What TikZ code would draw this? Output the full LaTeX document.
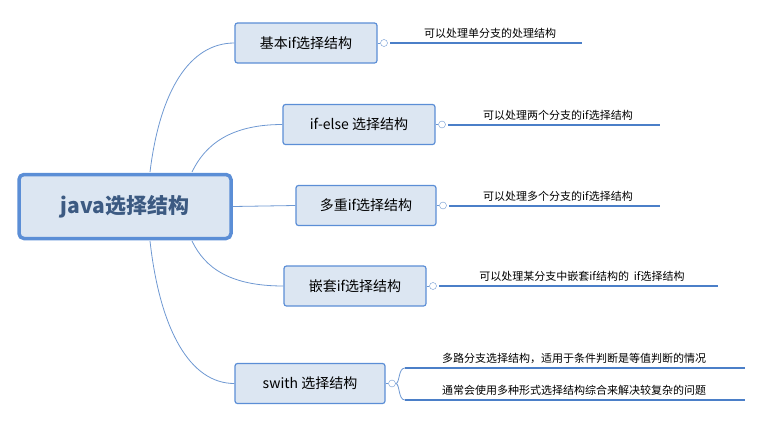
\documentclass[tikz,border=0pt]{standalone}
\usepackage{fontspec}
\setmainfont{Noto Sans CJK SC}
\begin{document}
\begin{tikzpicture}[x=1pt,y=-1pt,
  box/.style={draw=boxline,fill=boxfill,line width=1.2pt,rounded corners=2.5pt,minimum height=40pt,font=\fontsize{14}{16}\selectfont,inner sep=0pt},
  root/.style={draw=boxline,fill=boxfill,line width=3.5pt,rounded corners=5pt,minimum width=212pt,minimum height=64pt,font=\fontsize{21}{24}\bfseries\selectfont,text=roottext},
  conn/.style={draw=connline,line width=0.8pt},
  knob/.style={circle,draw=connline,fill=white,inner sep=0pt,minimum size=7pt},
  uline/.style={draw=ulcol,line width=2pt},
  lab/.style={font=\fontsize{11}{13}\selectfont,anchor=south,inner sep=1pt}]
\definecolor{boxline}{HTML}{5B8ED6}
\definecolor{boxfill}{HTML}{DCE6F2}
\definecolor{roottext}{HTML}{3C5A82}
\definecolor{connline}{HTML}{6E98D2}
\definecolor{ulcol}{HTML}{4B7FC8}
\useasboundingbox (0,0) rectangle (761,421);
\node[root] (r) at (125,206.5) {java选择结构};
\node[box,minimum width=142pt] (b1) at (306,43) {基本if选择结构};
\node[box,minimum width=152pt] (b2) at (359,124.5) {if-else 选择结构};
\node[box,minimum width=140pt] (b3) at (366,205.5) {多重if选择结构};
\node[box,minimum width=142pt] (b4) at (355,286) {嵌套if选择结构};
\node[box,minimum width=150pt] (b5) at (310,383.5) {swith 选择结构};
\coordinate (r1) at (150,172); \coordinate (r2) at (192,172);
\coordinate (r4) at (192,241); \coordinate (r5) at (150,241);
\draw[conn] (r1) .. controls (160,90) and (190,43) .. (b1.west);
\draw[conn] (r2) .. controls (205,145) and (230,124.5) .. (b2.west);
\draw[conn] (r.east) -- (b3.west);
\draw[conn] (r4) .. controls (205,268) and (230,286) .. (b4.west);
\draw[conn] (r5) .. controls (160,330) and (190,383.5) .. (b5.west);
% leaves
\node[knob] (k1) at (384,43) {}; \coordinate (e1a) at (390,43); \coordinate (e1) at (582,43);
\node[knob] (k2) at (442,124.5) {}; \coordinate (e2a) at (448,124.5); \coordinate (e2) at (660,124.5);
\node[knob] (k3) at (443,205.5) {}; \coordinate (e3a) at (449,205.5); \coordinate (e3) at (660,205.5);
\node[knob] (k4) at (433,286) {}; \coordinate (e4a) at (439,286); \coordinate (e4) at (718,286);
\node[knob] (k5) at (392,383.5) {};
\draw[conn] (b1.east) -- (k1); \draw[conn] (b2.east) -- (k2); \draw[conn] (b3.east) -- (k3);
\draw[conn] (b4.east) -- (k4); \draw[conn] (b5.east) -- (k5);
\draw[uline] (e1a) -- (e1); \draw[uline] (e2a) -- (e2); \draw[uline] (e3a) -- (e3); \draw[uline] (e4a) -- (e4);
\coordinate (u5a) at (405,368); \coordinate (u5b) at (745,368);
\coordinate (u6a) at (405,400); \coordinate (u6b) at (745,400);
\draw[conn] (k5.east) .. controls (400,383.5) and (398,368) .. (u5a);
\draw[conn] (k5.east) .. controls (400,383.5) and (398,400) .. (u6a);
\draw[uline] (u5a) -- (u5b); \draw[uline] (u6a) -- (u6b);
\node[lab] (t1) at (490,40) {可以处理单分支的处理结构};
\node[lab] (t2) at (558,121.5) {可以处理两个分支的if选择结构};
\node[lab] (t3) at (558,202.5) {可以处理多个分支的if选择结构};
\node[lab] (t4) at (582,283) {可以处理某分支中嵌套if结构的\ \ if选择结构};
\node[lab] (t5) at (574,365) {多路分支选择结构，适用于条件判断是等值判断的情况};
\node[lab] (t6) at (574,397) {通常会使用多种形式选择结构综合来解决较复杂的问题};
\end{tikzpicture}
\end{document}
